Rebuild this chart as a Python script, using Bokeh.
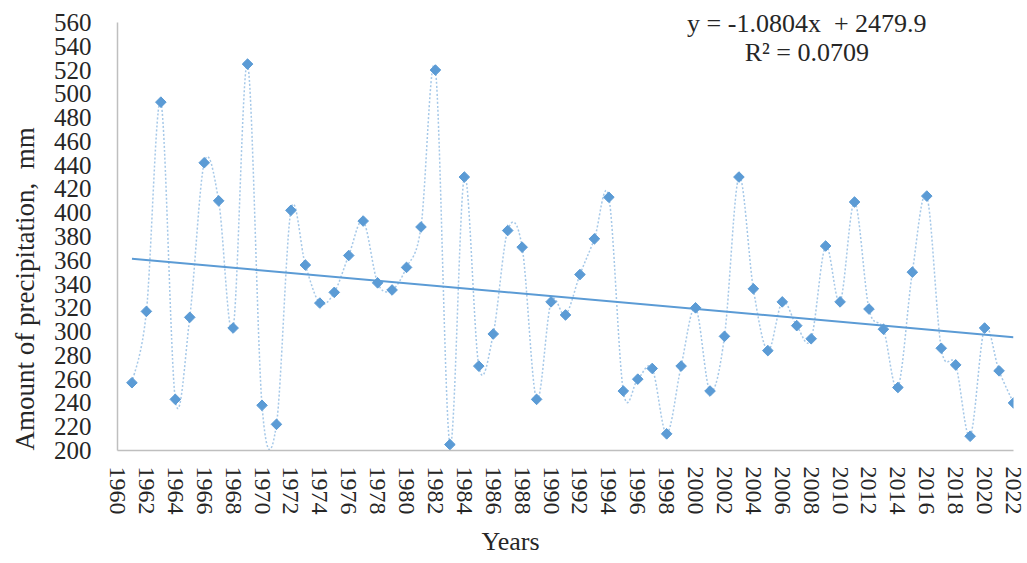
import numpy as np
from bokeh.plotting import figure
from bokeh.models import FixedTicker, Label, ColumnDataSource, Title
from bokeh.embed import file_html
from bokeh.resources import INLINE

years = [1961, 1962, 1963, 1964, 1965, 1966, 1967, 1968, 1969, 1970,
         1971, 1972, 1973, 1974, 1975, 1976, 1977, 1978, 1979, 1980,
         1981, 1982, 1983, 1984, 1985, 1986, 1987, 1988, 1989, 1990,
         1991, 1992, 1993, 1994, 1995, 1996, 1997, 1998, 1999, 2000,
         2001, 2002, 2003, 2004, 2005, 2006, 2007, 2008, 2009, 2010,
         2011, 2012, 2013, 2014, 2015, 2016, 2017, 2018, 2019, 2020,
         2021, 2022]
precip = [257, 317, 493, 243, 312, 442, 410, 303, 525, 238,
          222, 402, 356, 324, 333, 364, 393, 341, 335, 354,
          388, 520, 205, 430, 271, 298, 385, 371, 243, 325,
          314, 348, 378, 413, 250, 260, 269, 214, 271, 320,
          250, 296, 430, 336, 284, 325, 305, 294, 372, 325,
          409, 319, 302, 253, 350, 414, 286, 272, 212, 303,
          267, 240]
trend_slope = -1.0804
trend_intercept = 2479.9
r_squared = 0.0709
x_ticks = list(range(1960, 2023, 2))
y_ticks = list(range(200, 561, 20))

FONT = "Liberation Serif"
BLUE = "#5B9BD5"
TXT = "#262626"
NBSP = "\u00a0"

p = figure(width=1027, height=563, output_backend="svg", toolbar_location=None,
           x_range=(1960, 2022), y_range=(200, 576.8),
           min_border_left=117, min_border_right=14, min_border_top=2,
           min_border_bottom=113)
p.outline_line_color = None
p.xgrid.visible = False
p.ygrid.visible = False

# smoothed (Catmull-Rom style) connecting curve, built from the data points
xs = np.array(years, dtype=float)
ys = np.array(precip, dtype=float)
n = len(xs)
i = np.arange(n - 1)
i0 = np.maximum(i - 1, 0)
i3 = np.minimum(i + 2, n - 1)
src = ColumnDataSource(dict(
    x0=xs[i], y0=ys[i], x1=xs[i + 1], y1=ys[i + 1],
    cx0=xs[i] + (xs[i + 1] - xs[i0]) / 6, cy0=ys[i] + (ys[i + 1] - ys[i0]) / 6,
    cx1=xs[i + 1] - (xs[i3] - xs[i]) / 6, cy1=ys[i + 1] - (ys[i3] - ys[i]) / 6,
))
p.bezier(x0="x0", y0="y0", x1="x1", y1="y1", cx0="cx0", cy0="cy0", cx1="cx1", cy1="cy1",
         source=src, line_color=BLUE, line_alpha=0.55, line_width=1.5, line_dash="2 2")

# linear trend
tx = [years[0], years[-1]]
ty = [trend_slope * v + trend_intercept for v in tx]
p.line(tx, ty, line_color=BLUE, line_width=2)

p.scatter(years, precip, marker="square", angle=np.pi / 4, size=7.5,
          fill_color=BLUE, line_color=BLUE)

for ax in (p.xaxis[0], p.yaxis[0]):
    ax.axis_line_color = "#BFBFBF"
    ax.axis_line_width = 1.5
    ax.major_tick_line_color = None
    ax.minor_tick_line_color = None
    ax.major_tick_out = 0
    ax.major_tick_in = 0
    ax.major_label_text_font = FONT
    ax.major_label_text_color = TXT

p.yaxis.major_label_text_font_size = "25px"
p.xaxis.major_label_text_font_size = "24px"
p.xaxis.ticker = FixedTicker(ticks=x_ticks)
p.yaxis.ticker = FixedTicker(ticks=y_ticks)
p.yaxis.bounds = (200, 560)
p.xaxis.major_label_orientation = "vertical"
p.xaxis.major_label_standoff = 16
p.yaxis.major_label_standoff = 26

p.add_layout(Title(text="Amount of precipitation," + NBSP + " mm", align="left", offset=0,
                   vertical_align="top",
                   text_font=FONT, text_font_size="27px", text_font_style="normal",
                   text_color=TXT, standoff=18), "left")
p.add_layout(Title(text="Years", align="left", offset=364,
                   text_font=FONT, text_font_size="26px", text_font_style="normal",
                   text_color=TXT, standoff=14), "below")

def lab(x, y, text):
    p.add_layout(Label(x=x, y=y, text=text, text_align="center",
                       text_baseline="middle", text_font=FONT, text_font_size="26px",
                       text_color=TXT))

lab(2007.7, 559.2, f"y = {trend_slope}x" + NBSP + f" + {trend_intercept}")
lab(2007.7, 534.8, f"R² = {r_squared}")

open("out.html", "w").write(file_html(p, INLINE))
